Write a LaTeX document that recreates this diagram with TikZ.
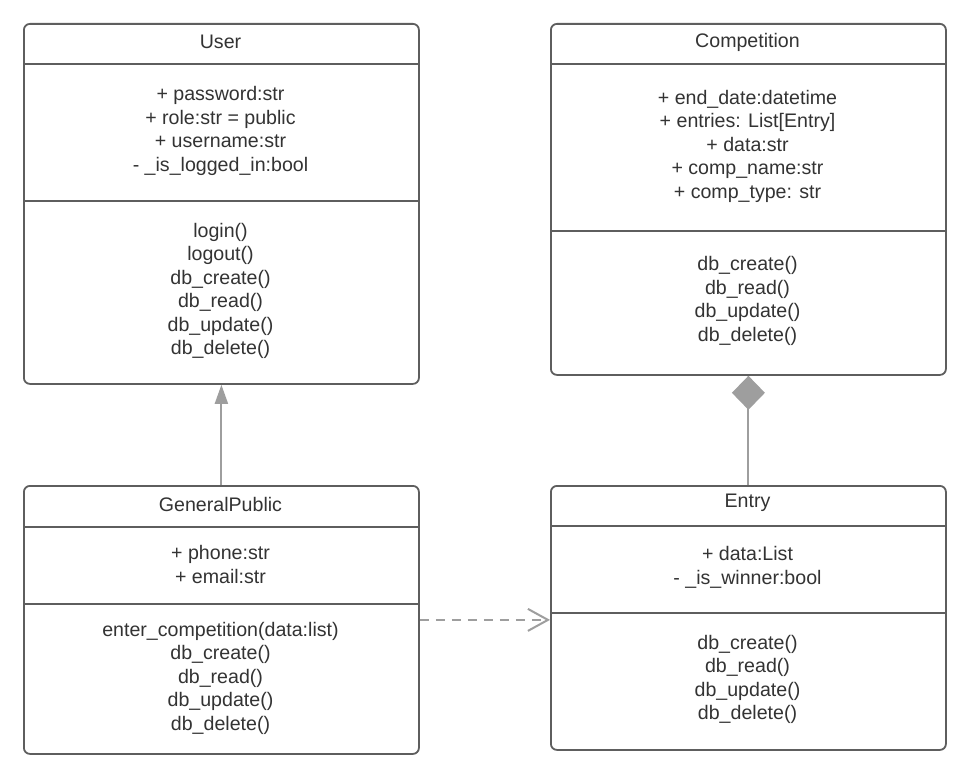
\documentclass[tikz,border=0pt]{standalone}
\usepackage{fontspec}
\setmainfont{Liberation Sans}
\usetikzlibrary{positioning,arrows.meta,calc}
\definecolor{boxline}{RGB}{94,94,94}
\definecolor{linkline}{RGB}{158,158,158}
\definecolor{txt}{RGB}{51,51,51}

\begin{document}
\begin{tikzpicture}[
x=1pt, y=-1pt,
classbox/.style={
  draw=boxline,
  line width=1.8pt,
  rounded corners=6pt,
  inner sep=0pt,
  minimum width=395pt,
  anchor=north west},
divider/.style={
  draw=boxline,
  line width=1.8pt},
members/.style={
  text=txt,
  align=center,
  inner sep=0pt,
  font=\fontsize{19.6}{23.5}\selectfont},
link/.style={
  draw=linkline,
  line width=2pt}
]
\useasboundingbox[fill=white] (0,0) rectangle (966,775);
% class boxes
\node[classbox, minimum height=360pt] (U) at (23,23) {};
\node[classbox, minimum height=351pt] (C) at (550,23) {};
\node[classbox, minimum height=268pt] (G) at (23,485) {};
\node[classbox, minimum height=264pt] (E) at (550,485) {};
\foreach \cls/\a/\b in {U/41/178, C/41/208, G/42/119, E/41/128}
{
  \draw[divider] ($(\cls.north west)+(0,\a)$) -- ($(\cls.north east)+(0,\a)$);
  \draw[divider] ($(\cls.north west)+(0,\b)$) -- ($(\cls.north east)+(0,\b)$);
}
% User
\node[members] (Utitle) at (220.5,42) {User};
\node[members] (Uattr) at (220.5,131) {+ password:str\\+ role:str = public\\+ username:str\\- \_is\_logged\_in:bool};
\node[members] (Uops) at (220.5,291) {login()\\logout()\\db\_create()\\db\_read()\\db\_update()\\db\_delete()};
% Competition
\node[members] (Ctitle) at (747.5,42) {Competition};
\node[members] (Cattr) at (747.5,146) {+ end\_date:datetime\\+ entries: List[Entry]\\+ data:str\\+ comp\_name:str\\+ comp\_type: str};
\node[members] (Cops) at (747.5,301) {db\_create()\\db\_read()\\db\_update()\\db\_delete()};
% GeneralPublic
\node[members] (Gtitle) at (220.5,504) {GeneralPublic};
\node[members] (Gattr) at (220.5,564.5) {+ phone:str\\+ email:str};
\node[members] (Gops) at (220.5,678) {enter\_competition(data:list)\\db\_create()\\db\_read()\\db\_update()\\db\_delete()};
% Entry
\node[members] (Etitle) at (747.5,503) {Entry};
\node[members] (Eattr) at (747.5,567.5) {+ data:List\\- \_is\_winner:bool};
\node[members] (Eops) at (747.5,679.5) {db\_create()\\db\_read()\\db\_update()\\db\_delete()};
% relations
\draw[link, -{Triangle[width=13pt,length=19pt]}] (G.north) -- (U.south);
\draw[link, {Diamond[width=33pt,length=34pt]}-] (C.south) -- (E.north);
\draw[link, dash pattern=on 9pt off 7pt, -{Straight Barb[length=20pt,width=22pt]}] (G.east) -- (G.east -| E.west);
\end{tikzpicture}
\end{document}
